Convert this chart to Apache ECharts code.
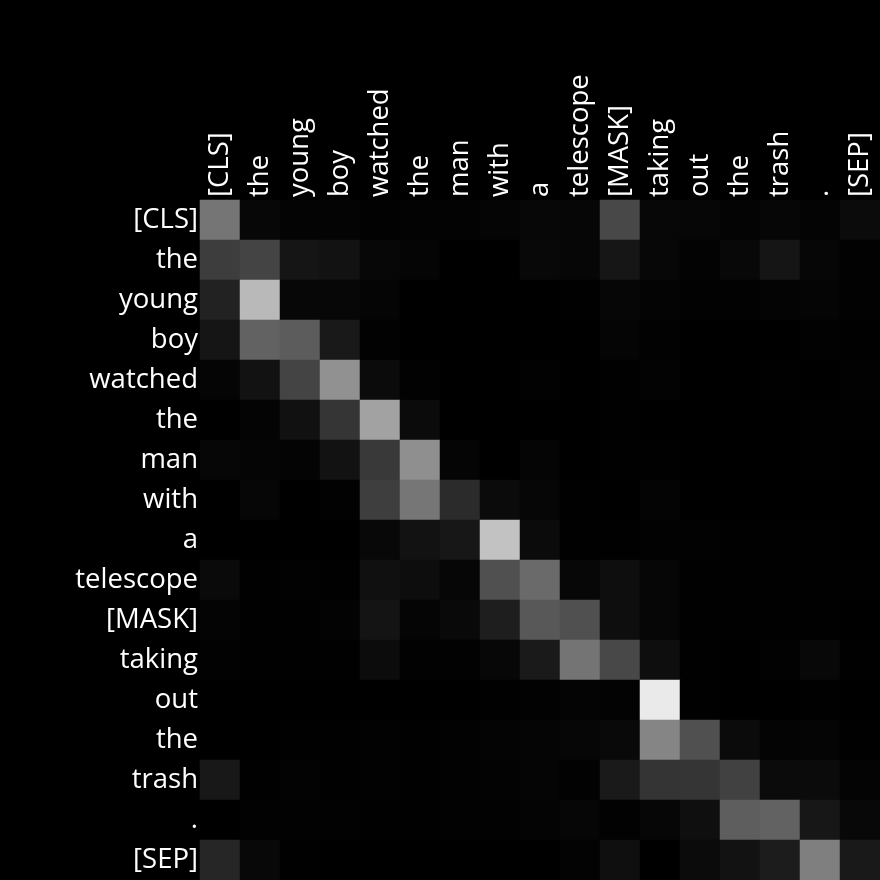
<!DOCTYPE html>
<html>
<head>
<meta charset="utf-8">
<script src="https://cdn.jsdelivr.net/npm/echarts@6/dist/echarts.min.js"></script>
<style>html,body{margin:0;padding:0;background:#000;}#c{width:880px;height:880px;}</style>
</head>
<body>
<div id="c"></div>
<script>
const tokens = ["[CLS]","the","young","boy","watched","the","man","with","a","telescope","[MASK]","taking","out","the","trash",".","[SEP]"];

const rowCLS       = [0.459,0.027,0.016,0.016,0.008,0.012,0.012,0.020,0.027,0.024,0.282,0.027,0.024,0.016,0.024,0.016,0.043];
const rowThe1      = [0.239,0.267,0.082,0.071,0.027,0.020,0.000,0.000,0.031,0.024,0.086,0.027,0.012,0.031,0.082,0.024,0.008];
const rowYoung     = [0.133,0.725,0.027,0.027,0.020,0,0,0,0,0.004,0.024,0.016,0.008,0.008,0.016,0.020,0.008];
const rowBoy       = [0.082,0.384,0.361,0.098,0.008,0,0,0,0,0,0.020,0.008,0,0,0,0.008,0.004];
const rowWatched   = [0.020,0.071,0.267,0.569,0.043,0.008,0,0,0.008,0,0.004,0.012,0,0,0.004,0,0.008];
const rowThe2      = [0,0.016,0.067,0.208,0.635,0.043,0,0,0,0,0.004,0,0,0,0,0.004,0.004];
const rowMan       = [0.024,0.020,0.016,0.071,0.224,0.561,0.020,0,0.020,0,0.004,0.004,0,0,0,0.004,0];
const rowWith      = [0,0.024,0,0.008,0.243,0.463,0.169,0.043,0.024,0.004,0,0.016,0,0,0,0,0];
const rowA         = [0,0,0,0,0.031,0.071,0.090,0.761,0.043,0.004,0.004,0.008,0.008,0.004,0.004,0.004,0];
const rowTelescope = [0.039,0.004,0.008,0.004,0.063,0.051,0.024,0.314,0.416,0.027,0.055,0.024,0.004,0.004,0.004,0.004,0.004];
const rowMask      = [0.016,0.004,0.004,0.012,0.078,0.020,0.035,0.118,0.345,0.314,0.055,0.024,0.004,0.004,0.004,0.004,0];
const rowTaking    = [0.008,0.004,0.004,0.004,0.047,0.008,0.008,0.027,0.102,0.455,0.282,0.055,0.004,0,0.008,0.031,0.004];
const rowOut       = [0,0,0,0,0,0,0,0.004,0.008,0.016,0.012,0.918,0.004,0,0,0.004,0];
const rowThe3      = [0,0,0.004,0.004,0.008,0.004,0.008,0.016,0.020,0.024,0.035,0.522,0.314,0.043,0.016,0.020,0.004];
const rowTrash     = [0.094,0.004,0.012,0.004,0.008,0.004,0.008,0.012,0.020,0.008,0.102,0.204,0.208,0.255,0.043,0.043,0.016];
const rowDot       = [0,0.008,0.008,0.008,0.004,0.004,0.008,0.008,0.016,0.024,0.008,0.024,0.059,0.369,0.384,0.090,0.031];
const rowSEP       = [0.149,0.031,0.004,0,0,0,0,0,0,0.012,0.059,0,0.043,0.071,0.110,0.498,0.098];

const rows = [rowCLS,rowThe1,rowYoung,rowBoy,rowWatched,rowThe2,rowMan,rowWith,rowA,rowTelescope,rowMask,rowTaking,rowOut,rowThe3,rowTrash,rowDot,rowSEP];

const data = [];
rows.forEach((r, yi) => r.forEach((v, xi) => data.push([xi, yi, v])));

const font = "'Open Sans', 'Noto Sans', sans-serif";
const chart = echarts.init(document.getElementById('c'), null, {renderer: 'canvas'});
chart.setOption({
  backgroundColor: '#000',
  animation: false,
  grid: {left: 200, top: 200, width: 680, height: 680},
  xAxis: {
    type: 'category', data: tokens, position: 'top',
    axisLine: {show: false}, axisTick: {show: false}, splitLine: {show: false},
    axisLabel: {interval: 0, rotate: -90, color: '#fff', fontSize: 27.5, fontFamily: font, margin: 3, padding: [4, 0, 0, 0]}
  },
  yAxis: {
    type: 'category', data: tokens, inverse: true,
    axisLine: {show: false}, axisTick: {show: false}, splitLine: {show: false},
    axisLabel: {interval: 0, color: '#fff', fontSize: 27.5, fontFamily: font, margin: 2, padding: [4, 0, 0, 0]}
  },
  visualMap: {show: false, min: 0, max: 1, dimension: 2, inRange: {color: ['#000000', '#ffffff']}},
  series: [{type: 'heatmap', data: data, itemStyle: {borderWidth: 0}, emphasis: {disabled: true}}]
});
</script>
</body>
</html>
